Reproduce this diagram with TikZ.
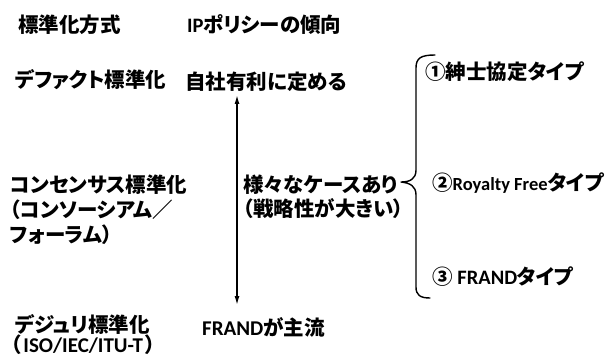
\documentclass[tikz,border=0pt]{standalone}
\usepackage{fontspec}
\setmainfont{Noto Sans CJK JP}[RawFeature=+palt]
\newfontfamily\lat{Carlito}
\usetikzlibrary{arrows.meta}
\begin{document}
\begin{tikzpicture}[x=1pt,y=-1pt,
  lbl/.style={anchor=west,inner sep=0pt,align=left,font=\bfseries\fontsize{20.5}{25}\selectfont},
  tight/.style={lbl,font=\bfseries\fontsize{20.5}{20}\selectfont},
  mid/.style={lbl,font=\bfseries\fontsize{20.5}{24}\selectfont},
  conn/.style={line width=1.4pt,{Latex[length=9pt,width=5pt]}-{Latex[length=9pt,width=5pt]}},
  bracepath/.style={line width=1.4pt,line cap=round,line join=round}]
\useasboundingbox (0,0) rectangle (607,363);
% headers
\node[lbl] (h1) at (18,25) {標準化方式};
\node[lbl] (h2) at (187,25) {{\lat IP}ポリシーの傾向};
% left column
\node[lbl] (a1) at (15,80) {デファクト標準化};
\node[lbl] (a2) at (10,210) {コンセンサス標準化\\（コンソーシアム／\\フォーラム）};
\node[tight] (a3) at (11,335) {\hspace{4pt}デジュリ標準化\\（\hspace{2pt}{\fontsize{21}{20}\selectfont\lat ISO/IEC/ITU-T}\hspace{2pt}）};
% middle column
\node[lbl] (b1) at (185,82) {自社有利に定める};
\node[mid] (b2) at (243,197) {様々なケースあり\\（戦略性が大きい）};
\node[lbl] (b3) at (202,327) {{\fontsize{21}{25}\selectfont\lat FRAND}が主流};
% arrow
\coordinate (atop) at (237,95);
\coordinate (abot) at (237,305);
\draw[conn] (atop) -- (abot);
% brace
\draw[bracepath] (435,55) .. controls (421,55) and (416,58) .. (416,68)
  -- (416,170) .. controls (416,179) and (410,182) .. (401,182)
  .. controls (410,183) and (416,186) .. (416,195)
  -- (416,287) .. controls (416,295) and (420,298) .. (430,298);
% right column
\node[lbl] (c1) at (425,72) {①紳士協定タイプ};
\node[lbl] (c2) at (432,183) {②{\fontsize{18.5}{25}\selectfont\lat Royalty Free}タイプ};
\node[lbl] (c3) at (432,277) {③ {\lat FRAND}タイプ};
\end{tikzpicture}
\end{document}
